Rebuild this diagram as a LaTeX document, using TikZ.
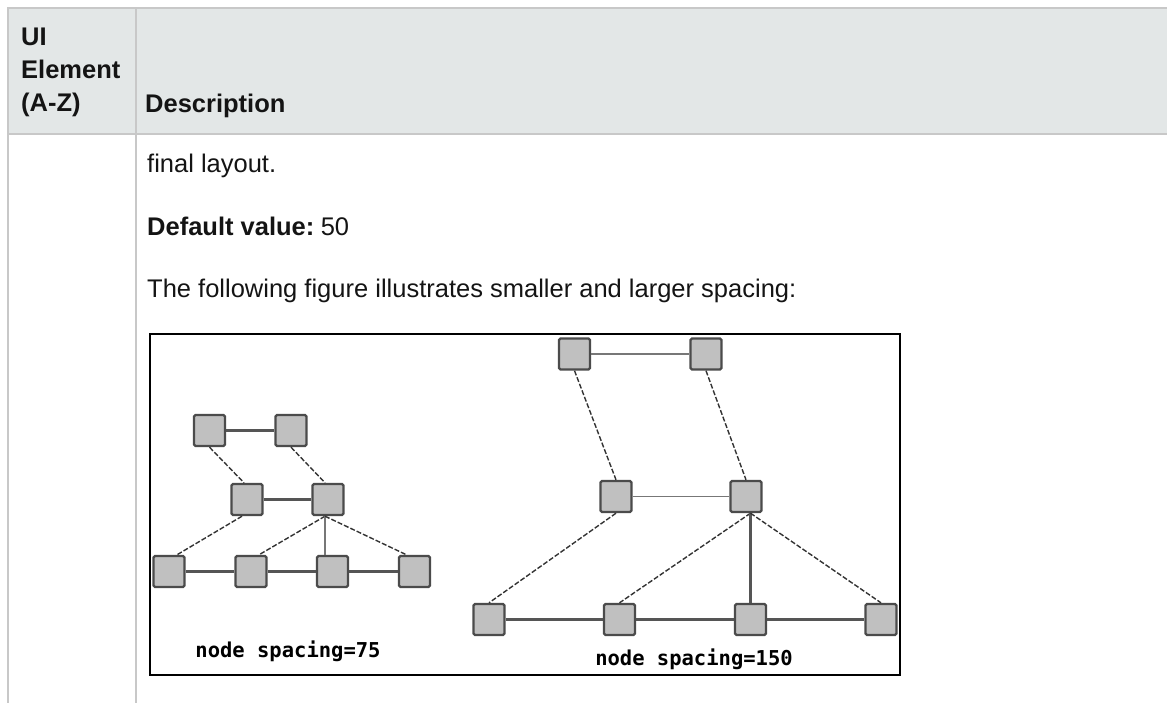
\documentclass[tikz,border=0pt]{standalone}
\usepackage{fontspec}
\setmainfont{Liberation Sans}
\newfontfamily\capfont{DejaVu Sans Mono}
\usepackage{tikz}
\usetikzlibrary{positioning}
\definecolor{HeadGray}{RGB}{227,231,231}
\definecolor{RuleGray}{RGB}{200,200,200}
\definecolor{BoxFill}{RGB}{192,192,192}
\definecolor{BoxEdge}{RGB}{75,75,75}
\definecolor{LinkGray}{RGB}{85,85,85}
\definecolor{TextBlack}{RGB}{20,20,20}

\begin{document}
\begin{tikzpicture}[x=1pt,y=-1pt,every node/.style={font=\fontsize{25.5}{31}\selectfont,text=TextBlack,inner sep=0pt,anchor=base west}]
\tikzset{box/.style={draw=BoxEdge,fill=BoxFill,line width=2.4pt,minimum size=31pt,rounded corners=1.5pt,anchor=center},link/.style={draw=LinkGray,line width=2.2pt},thinlink/.style={draw=LinkGray!80,line width=1.4pt},dlink/.style={draw=black!80,line width=1.4pt,dash pattern=on 5pt off 2pt},caption/.style={font=\capfont\bfseries\fontsize{20.5}{24}\selectfont,anchor=base,text=black}}
\useasboundingbox (0,0) rectangle (1167,703);
\fill[HeadGray] (8,8) rectangle (1167,134);
\draw[RuleGray,line width=2pt] (8,703) -- (8,8) -- (1167,8);
\draw[RuleGray,line width=2pt] (8,134) -- (1167,134);
\draw[RuleGray,line width=2pt] (136,8) -- (136,703);
\node[font=\bfseries\fontsize{25.5}{31}\selectfont] (hui) at (21,46) {UI};
\node[font=\bfseries\fontsize{25.5}{31}\selectfont] (helem) at (21,79) {Element};
\node[font=\bfseries\fontsize{25.5}{31}\selectfont] (haz) at (21,112) {(A-Z)};
\node[font=\bfseries\fontsize{25.5}{31}\selectfont] (hdesc) at (145,113) {Description};
\node (final) at (147,173) {final layout.};
\node (default) at (147,236) {\textbf{Default value:}\hspace{0.25em}50};
\node (intro) at (147,298) {The following figure illustrates smaller and larger spacing:};
\draw[black,line width=2pt] (150,334) rectangle (900,675);
\node[box] (sm1) at (209.5,430.5) {};
\node[box] (sm2) at (291,430.5) {};
\node[box] (sm3) at (247,499.5) {};
\node[box] (sm4) at (328,499.5) {};
\node[box] (sm5) at (169,571.5) {};
\node[box] (sm6) at (251,571.5) {};
\node[box] (sm7) at (332.5,571.5) {};
\node[box] (sm8) at (414.5,571.5) {};
\node[box] (lg1) at (574.5,354) {};
\node[box] (lg2) at (706,354) {};
\node[box] (lg3) at (616,496.5) {};
\node[box] (lg4) at (746,496.5) {};
\node[box] (lg5) at (489,619.5) {};
\node[box] (lg6) at (619.5,619.5) {};
\node[box] (lg7) at (750.5,619.5) {};
\node[box] (lg8) at (881,619.5) {};
\draw[link] (sm1) -- (sm2);
\draw[link] (sm3) -- (sm4);
\draw[link] (sm5) -- (sm6);
\draw[link] (sm6) -- (sm7);
\draw[link] (sm7) -- (sm8);
\draw[dlink] (sm1.south) -- ([xshift=-3pt]sm3.north);
\draw[dlink] (sm2.south) -- ([xshift=-3pt]sm4.north);
\draw[dlink] ([xshift=-5pt]sm3.south) -- ([xshift=8pt]sm5.north);
\draw[dlink] ([xshift=-3pt]sm4.south) -- ([xshift=8pt]sm6.north);
\draw[thinlink] ([xshift=-3pt]sm4.south) -- ([xshift=-3pt]sm4.south |- sm7.north);
\draw[dlink] ([xshift=-3pt]sm4.south) -- ([xshift=-8pt]sm8.north);
\draw[thinlink] (lg1) -- (lg2);
\draw[thinlink] (lg3) -- (lg4);
\draw[link] (lg5) -- (lg6);
\draw[link] (lg6) -- (lg7);
\draw[link] (lg7) -- (lg8);
\draw[dlink] (lg1.south) -- (lg3.north);
\draw[dlink] (lg2.south) -- (lg4.north);
\draw[dlink] (lg3.south) -- (lg5.north);
\draw[dlink] (lg7.north |- lg4.south) -- (lg6.north);
\draw[link] (lg7.north |- lg4.south) -- (lg7.north);
\draw[dlink] (lg7.north |- lg4.south) -- (lg8.north);
\node[caption] (cap75) at (288,657) {node spacing=75};
\node[caption] (cap150) at (694,665) {node spacing=150};
\end{tikzpicture}
\end{document}
